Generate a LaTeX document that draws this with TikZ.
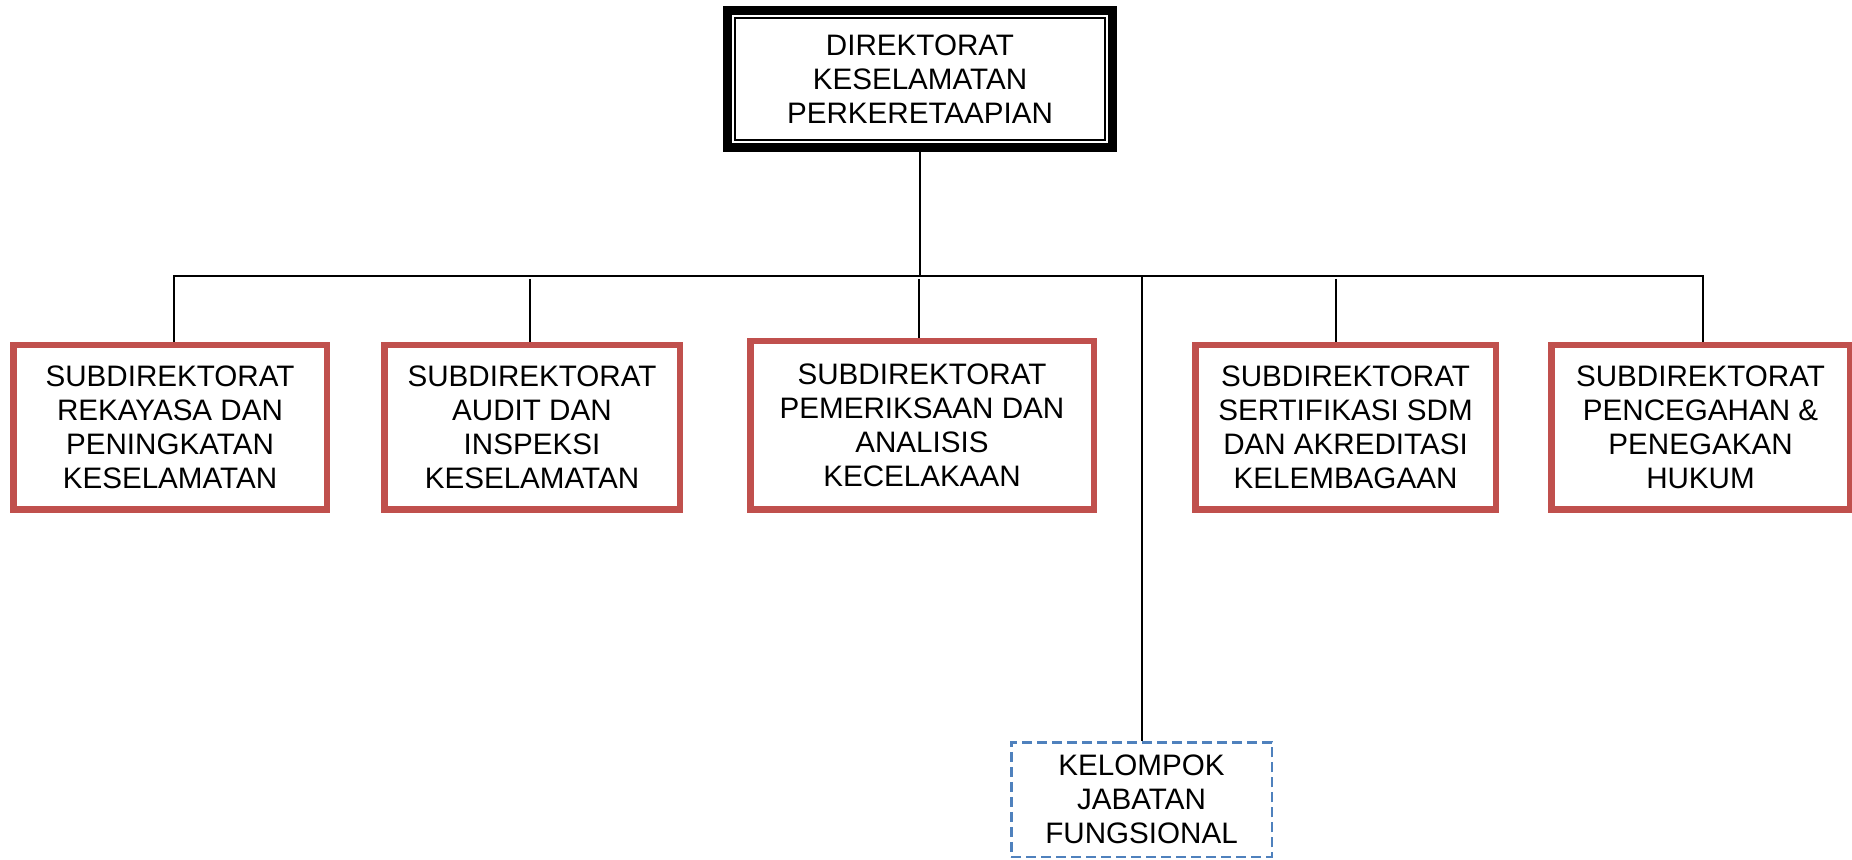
\documentclass[tikz,border=0pt]{standalone}
\usepackage{fontspec}
\setmainfont{Liberation Sans}
\definecolor{subred}{HTML}{C0504D}
\definecolor{fungblue}{HTML}{4F81BD}
\begin{document}
\begin{tikzpicture}[x=0.5pt,y=-0.5pt,
  font=\fontsize{14.8}{17}\selectfont,
  subbox/.style={draw=subred, line width=3.25pt, align=center, inner sep=0pt, minimum height=82.25pt},
  topbox/.style={draw=black, line width=4.5pt, align=center, inner sep=0pt, minimum width=192.5pt, minimum height=68.5pt},
  fungbox/.style={draw=fungblue, line width=1.25pt, dash pattern=on 5pt off 2.5pt, align=center, inner sep=0pt, minimum width=130.25pt, minimum height=57.25pt},
  conn/.style={line width=1pt, draw=black}]
\useasboundingbox (0,0) rectangle (1852,860);

\node[topbox] (top) at (920,79) {DIREKTORAT\\KESELAMATAN\\PERKERETAAPIAN};
\draw[line width=1pt] ([shift={(12,12)}]top.north west) rectangle ([shift={(-12,-12)}]top.south east);

\node[subbox, minimum width=156.75pt] (b1) at (170,427.5) {SUBDIREKTORAT\\REKAYASA DAN\\PENINGKATAN\\KESELAMATAN};
\node[subbox, minimum width=147.75pt] (b2) at (532,427.5) {SUBDIREKTORAT\\AUDIT DAN\\INSPEKSI\\KESELAMATAN};
\node[subbox, minimum width=171.75pt, minimum height=84.25pt] (b3) at (922,425.5) {SUBDIREKTORAT\\PEMERIKSAAN DAN\\ANALISIS\\KECELAKAAN};
\node[subbox, minimum width=150.25pt] (b4) at (1345.5,427.5) {SUBDIREKTORAT\\SERTIFIKASI SDM\\DAN AKREDITASI\\KELEMBAGAAN};
\node[subbox, minimum width=149.25pt] (b5) at (1700.5,427.5) {SUBDIREKTORAT\\PENCEGAHAN \&\\PENEGAKAN\\HUKUM};

\node[fungbox] (kjf) at (1141.5,799.5) {KELOMPOK\\JABATAN\\FUNGSIONAL};

\coordinate (bl) at (174,276);
\coordinate (br) at (1703,276);
\coordinate (j2) at (530,279);
\coordinate (j3) at (919,279);
\coordinate (j4) at (1336,279);
\coordinate (j6) at (1142,276);

\draw[conn] (top.south) -- (top.south |- bl);
\draw[conn] (b1.north -| bl) -- (bl) -- (br) -- (b5.north -| br);
\draw[conn] (j2) -- (j2 |- b2.north);
\draw[conn] (j3) -- (j3 |- b3.north);
\draw[conn] (j4) -- (j4 |- b4.north);
\draw[conn] (j6) -- (j6 |- kjf.north);
\end{tikzpicture}
\end{document}
